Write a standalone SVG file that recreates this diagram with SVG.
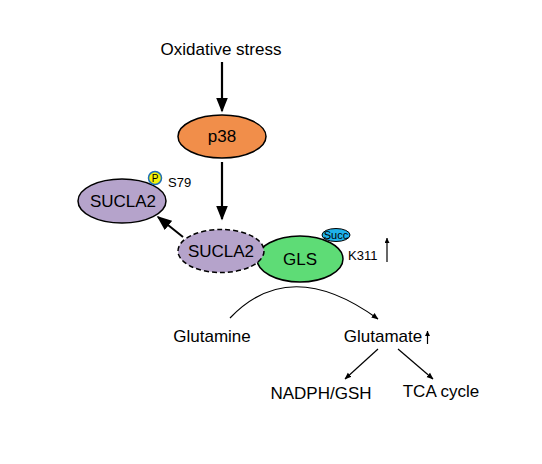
<svg xmlns="http://www.w3.org/2000/svg" width="542" height="464" viewBox="0 0 542 464">
<defs>
<marker id="big" viewBox="0 0 10 10" refX="10" refY="5" markerWidth="5" markerHeight="5" markerUnits="userSpaceOnUse" orient="auto"><path d="M0,0 L10,5 L0,10 z" fill="#000"/></marker>
<marker id="bigA" viewBox="0 0 10 10" refX="9" refY="5" markerWidth="15" markerHeight="12" markerUnits="userSpaceOnUse" orient="auto" preserveAspectRatio="none"><path d="M0,0 L10,5 L0,10 z" fill="#000"/></marker>
<marker id="small" viewBox="0 0 10 10" refX="9" refY="5" markerWidth="7" markerHeight="7" markerUnits="userSpaceOnUse" orient="auto"><path d="M0,1 L10,5 L0,9 z" fill="#000"/></marker>
</defs>
<style>
text{font-family:"Liberation Sans",Arial,sans-serif;fill:#000}
.lbl{font-size:17px}
.node{stroke:#000;stroke-width:1.5}
</style>
<rect width="542" height="464" fill="#fff"/>
<g id="connectors" fill="none" stroke="#000">
<line x1="222" y1="62" x2="222" y2="111" stroke-width="2.2" marker-end="url(#bigA)"/>
<line x1="222" y1="162" x2="222" y2="219" stroke-width="2.2" marker-end="url(#bigA)"/>
<line x1="183" y1="237" x2="158" y2="217" stroke-width="2" marker-end="url(#bigA)"/>
<path d="M230,318 Q290,255 378,319" stroke-width="1.2" marker-end="url(#small)"/>
<line x1="378" y1="349" x2="345" y2="379" stroke-width="1.2" marker-end="url(#small)"/>
<line x1="398" y1="349" x2="433" y2="379" stroke-width="1.2" marker-end="url(#small)"/>
</g>
<g id="oxidative-stress"><text class="lbl" x="221" y="55" text-anchor="middle">Oxidative stress</text></g>
<g id="p38"><ellipse class="node" cx="222" cy="136.5" rx="44" ry="21.5" fill="#F18E4A"/><text class="lbl" x="222" y="142" text-anchor="middle">p38</text></g>
<g id="sucla2-p"><ellipse class="node" cx="122" cy="201" rx="44" ry="22" fill="#B5A3CB"/><text class="lbl" x="123" y="207" text-anchor="middle">SUCLA2</text>
<circle cx="155" cy="178" r="6.5" fill="#F2F20A" stroke="#1E6FB8" stroke-width="1.5"/><text x="155" y="182" font-size="10" text-anchor="middle">P</text>
<text x="168" y="187" font-size="13">S79</text></g>
<g id="gls"><ellipse class="node" cx="300" cy="259" rx="43" ry="23" fill="#5EDC76"/><text class="lbl" x="300" y="265" text-anchor="middle">GLS</text>
<ellipse cx="336" cy="235" rx="14" ry="6.5" fill="#1FB2EA" stroke="#000" stroke-width="1"/><text x="336" y="239" font-size="11" text-anchor="middle">Succ</text>
<text x="348" y="260" font-size="13">K311</text>
<line x1="387" y1="262" x2="387" y2="238" stroke="#000" stroke-width="1.2" marker-end="url(#big)"/></g>
<g id="sucla2"><ellipse class="node" cx="221" cy="251" rx="43" ry="21.5" fill="#B5A3CB" stroke-dasharray="5,3"/><text class="lbl" x="221" y="257" text-anchor="middle">SUCLA2</text></g>
<g id="glutamine"><text class="lbl" x="212" y="342" text-anchor="middle">Glutamine</text></g>
<g id="glutamate"><text class="lbl" x="383" y="342" text-anchor="middle">Glutamate</text>
<line x1="427.5" y1="344" x2="427.5" y2="331" stroke="#000" stroke-width="1.2" marker-end="url(#big)"/></g>
<g id="nadph"><text class="lbl" x="321" y="399" text-anchor="middle">NADPH/GSH</text></g>
<g id="tca"><text class="lbl" x="441" y="397" text-anchor="middle">TCA cycle</text></g>
</svg>
